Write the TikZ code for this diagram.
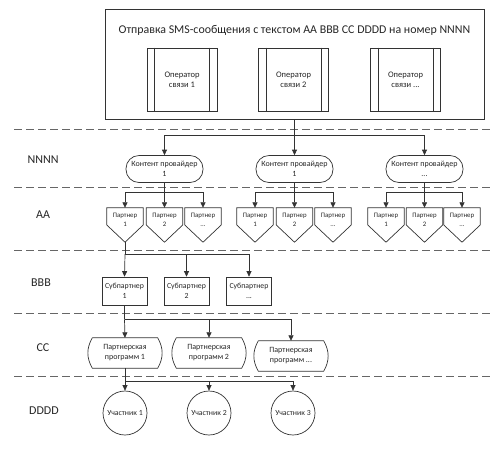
\documentclass[tikz,border=0pt]{standalone}
\usepackage{fontspec}
\setmainfont{Carlito}
\usetikzlibrary{arrows.meta,calc}
\begin{document}
\begin{tikzpicture}[x=1pt,y=-1pt,
  line/.style={draw=black!80, line width=0.7pt},
  arr/.style={line, -{Triangle[length=5.5pt,width=5pt]}},
  sep/.style={draw=black!60, line width=1pt, dash pattern=on 8pt off 4pt},
  lvl/.style={font=\fontsize{12}{14}\selectfont, text=black!85},
  title/.style={font=\fontsize{11.9}{13}\selectfont, text=black!85},
  opbox/.style={line, minimum width=70pt, minimum height=63pt, inner sep=0pt, align=center, text=black!85, font=\fontsize{8.5}{10}\selectfont},
  prov/.style={line, rounded corners=13pt, minimum width=77pt, minimum height=27pt, inner sep=0pt, align=center, text=black!85, font=\fontsize{8}{10}\selectfont},
  partner/.style={minimum width=36pt, minimum height=24pt, inner sep=0pt, align=center, text=black!85, font=\fontsize{6.8}{9}\selectfont},
  subbox/.style={line, minimum width=45pt, minimum height=28pt, inner sep=0pt, align=center, text=black!85, font=\fontsize{7.8}{10}\selectfont},
  prog/.style={minimum width=65pt, minimum height=30pt, inner sep=0pt, align=center, text=black!85, font=\fontsize{8}{10}\selectfont},
  member/.style={line, circle, minimum size=44pt, inner sep=0pt, align=center, text=black!85, font=\fontsize{7.8}{10}\selectfont}
]
\useasboundingbox (0,0) rectangle (500,448);

% level separators
\foreach \yy in {129,187,250,313,376}
  \draw[sep] (14,\yy) -- (490,\yy);

% level labels
\node[lvl] (lN) at (43,160) {NNNN};
\node[lvl] (lA) at (43,215) {AA};
\node[lvl] (lB) at (41,283) {BBB};
\node[lvl] (lC) at (43,348) {CC};
\node[lvl] (lD) at (44,411) {DDDD};

% top box
\node[line, minimum width=379pt, minimum height=110pt, inner sep=0pt] (top) at (294.5,64) {};
\node[title] (ttl) at (294.5,30) {Отправка SMS-сообщения с текстом AA BBB CC DDDD на номер NNNN};

\node[opbox] (o1) at (182,79.5) {Оператор\\связи 1};
\node[opbox] (o2) at (293.5,79.5) {Оператор\\связи 2};
\node[opbox] (o3) at (405.5,79.5) {Оператор\\связи ...};
\foreach \n in {o1,o2,o3} {
  \draw[line] ([xshift=8pt]\n.north west) -- ([xshift=8pt]\n.south west);
  \draw[line] ([xshift=-8pt]\n.north east) -- ([xshift=-8pt]\n.south east);
}

% providers
\node[prov] (pv1) at (164.5,169) {Контент провайдер\\1};
\node[prov] (pv2) at (294.5,169) {Контент провайдер\\1};
\node[prov] (pv3) at (424.5,169) {Контент провайдер\\...};

% partners
\node[partner] (p11) at (125,220) {Партнер\\1};
\node[partner] (p12) at (164.5,220) {Партнер\\2};
\node[partner] (p13) at (203,220) {Партнер\\...};
\node[partner] (p21) at (255,220) {Партнер\\1};
\node[partner] (p22) at (294.5,220) {Партнер\\2};
\node[partner] (p23) at (333,220) {Партнер\\...};
\node[partner] (p31) at (386,220) {Партнер\\1};
\node[partner] (p32) at (424.5,220) {Партнер\\2};
\node[partner] (p33) at (462,220) {Партнер\\...};
\foreach \n in {p11,p12,p13,p21,p22,p23,p31,p32,p33}
  \draw[line] (\n.north west) -- (\n.north east) -- ([yshift=-5pt]\n.east)
     -- ([yshift=-10pt]\n.south) -- ([yshift=-5pt]\n.west) -- cycle;

% subpartners
\node[subbox] (s1) at (124.5,291) {Субпартнер\\1};
\node[subbox] (s2) at (186.5,291) {Субпартнер\\2};
\node[subbox] (s3) at (249,291) {Субпартнер\\...};

% partner programs
\node[prog] (c1) at (125,353) {Партнерская\\программ 1};
\node[prog] (c2) at (209,353) {Партнерская\\программ 2};
\node[prog] (c3) at (291,356) {Партнерская\\программ ...};
\foreach \n in {c1,c2,c3}
  \draw[line] (\n.north west) -- (\n.north east) to[bend left=30] (\n.south east)
     -- (\n.south west) to[bend left=30] (\n.north west);

% members
\node[member] (m1) at (125,413) {Участник 1};
\node[member] (m2) at (209,413) {Участник 2};
\node[member] (m3) at (293,413) {Участник 3};

% connectors
\coordinate (j0) at ($(top.south)+(0,16)$);
\draw[line] (top.south) -- (j0);
\draw[arr] (j0) -| (pv1.north);
\draw[arr] (j0) -- (pv2.north);
\draw[arr] (j0) -| (pv3.north);

\foreach \pv/\a/\b/\c in {pv1/p11/p12/p13, pv2/p21/p22/p23, pv3/p31/p32/p33} {
  \coordinate (jj) at ($(\pv.south)+(0,9)$);
  \draw[line] (\pv.south) -- (jj);
  \draw[arr] (jj) -| (\a.north);
  \draw[arr] (jj) -| (\b.north);
  \draw[arr] (jj) -| (\c.north);
}

\coordinate (p11t) at ([yshift=-10pt]p11.south);
\coordinate (j2) at ($(p11t)+(0,12)$);
\draw[line] (p11t) -- (j2);
\draw[arr] (j2) -- (s1.north);
\draw[arr] (j2) -| (s2.north);
\draw[arr] (j2) -| (s3.north);

\coordinate (j3) at ($(s1.south)+(0,14)$);
\draw[line] (s1.south) -- (j3);
\draw[arr] (j3) -- (c1.north);
\draw[arr] (j3) -| (c2.north);
\draw[arr] (j3) -| (c3.north);

\coordinate (j4) at ($(c1.south)+(0,13)$);
\draw[line] (c1.south) -- (j4);
\draw[arr] (j4) -- (m1.north);
\draw[arr] (j4) -| (m2.north);
\draw[arr] (j4) -| (m3.north);
\end{tikzpicture}
\end{document}
